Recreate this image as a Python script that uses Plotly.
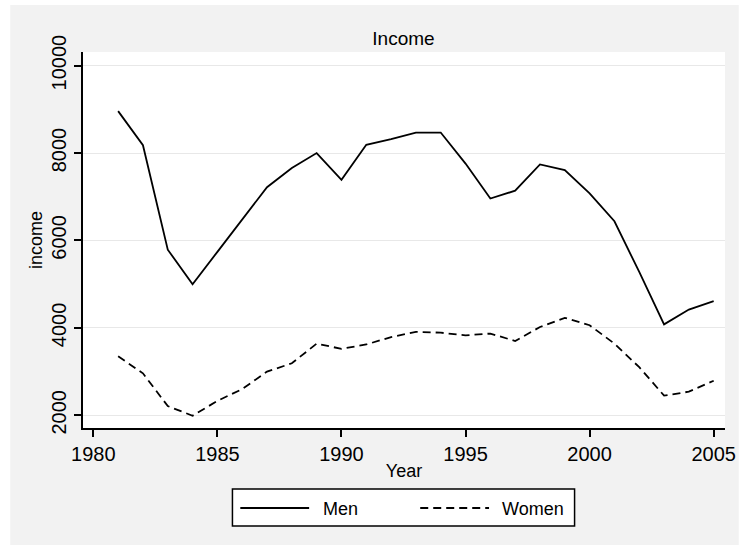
import plotly.graph_objects as go

# ---- data ----
years = list(range(1981, 2006))
men = [8960, 8180, 5790, 5000, 5740, 6490, 7220, 7660, 8000, 7390, 8190, 8320,
       8470, 8470, 7760, 6960, 7140, 7740, 7610, 7080, 6440, 5280, 4080, 4420, 4610]
women = [3350, 2960, 2210, 1990, 2330, 2600, 3000, 3190, 3640, 3520, 3620, 3790,
         3910, 3890, 3830, 3870, 3700, 4020, 4230, 4060, 3640, 3100, 2450, 2540, 2790]
series_names = ["Men", "Women"]
x_ticks = [1980, 1985, 1990, 1995, 2000, 2005]
y_ticks = [2000, 4000, 6000, 8000, 10000]

# ---- layout geometry (pixels) ----
W, H = 748, 545
L, R, T, B = 83, 736, 52, 428
PW, PH = R - L, B - T

def px(xp):
    return (xp - L) / PW

def py(yp):
    return (B - yp) / PH

FONT = "Liberation Sans, Arial, Helvetica, sans-serif"
BG = "#f2f2f2"

fig = go.Figure()
fig.add_trace(go.Scatter(x=years, y=men, mode="lines", name=series_names[0],
                         line=dict(color="black", width=1.8), showlegend=False))
fig.add_trace(go.Scatter(x=years, y=women, mode="lines", name=series_names[1],
                         line=dict(color="black", width=1.8, dash="8px,5px"),
                         showlegend=False))

shapes = [
    # outer gray graph region
    dict(type="rect", xref="paper", yref="paper", x0=px(9), x1=px(W + 2),
         y0=py(H + 2), y1=py(5), fillcolor=BG, line=dict(width=0), layer="below"),
    # white plot region
    dict(type="rect", xref="paper", yref="paper", x0=0, x1=1, y0=0, y1=1,
         fillcolor="white", line=dict(width=0), layer="below"),
    # legend box
    dict(type="rect", xref="paper", yref="paper", x0=px(235), x1=px(583),
         y0=py(526), y1=py(489), fillcolor="white",
         line=dict(color="black", width=1.5)),
    # legend keys
    dict(type="line", xref="paper", yref="paper", x0=px(243), x1=px(313),
         y0=py(508), y1=py(508), line=dict(color="black", width=1.8)),
    dict(type="line", xref="paper", yref="paper", x0=px(426), x1=px(496),
         y0=py(508), y1=py(508), line=dict(color="black", width=1.8, dash="8px,5px")),
]

annotations = [
    dict(text=series_names[0], xref="paper", yref="paper", x=px(325), y=py(509),
         xanchor="left", yanchor="middle", showarrow=False,
         font=dict(family=FONT, size=18, color="black")),
    dict(text=series_names[1], xref="paper", yref="paper", x=px(507), y=py(509),
         xanchor="left", yanchor="middle", showarrow=False,
         font=dict(family=FONT, size=18, color="black")),
]

fig.update_layout(
    width=W, height=H,
    margin=dict(l=L, r=W - R, t=T, b=H - B, pad=0),
    paper_bgcolor="white",
    plot_bgcolor="white",
    font=dict(family=FONT, size=18, color="black"),
    title=dict(text="Income", x=px(409), xref="paper", xanchor="center",
               y=1 - 38 / H, yref="container", yanchor="middle",
               font=dict(family=FONT, size=19, color="black")),
    shapes=shapes,
    annotations=annotations,
    showlegend=False,
)

fig.update_xaxes(
    range=[1979.584, 2005.456],
    tickvals=x_ticks, ticktext=[str(v) for v in x_ticks],
    showgrid=False, zeroline=False,
    showline=True, linecolor="black", linewidth=2,
    ticks="outside", ticklen=7, tickwidth=2, tickcolor="black",
    tickfont=dict(family=FONT, size=20, color="black"),
    title=dict(text="Year", standoff=0, font=dict(family=FONT, size=18)),
)
fig.update_yaxes(
    range=[1709, 10313],
    tickvals=y_ticks, ticktext=[str(v) for v in y_ticks],
    tickangle=-90,
    showgrid=True, gridcolor="#e8e8e8", gridwidth=1.2,
    zeroline=False,
    showline=True, linecolor="black", linewidth=2,
    ticks="outside", ticklen=7, tickwidth=2, tickcolor="black",
    tickfont=dict(family=FONT, size=20, color="black"),
    title=dict(text="income", standoff=1, font=dict(family=FONT, size=18)),
)

fig.write_html("out.html")
